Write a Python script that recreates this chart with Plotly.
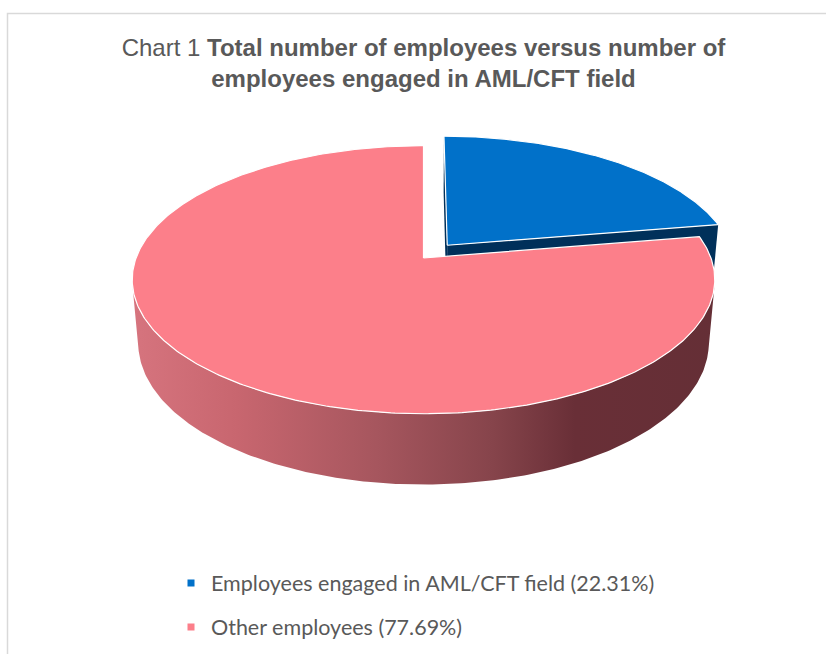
import numpy as np
import plotly.graph_objects as go

# ---- data -------------------------------------------------------------
labels = ["Employees engaged in AML/CFT field", "Other employees"]
shares = [22.31, 77.69]          # percent of all employees
pull = [0.13, 0.0]               # exploded distance (in pie radii)

top_colors = ["#0171C9", "#FC7F8A"]
side_colors = ["#00305A", "#8A4048"]
side_scales = [
    None,
    [[0.0, "#D6747E"], [0.18, "#C8666F"], [0.42, "#A6565E"],
     [0.62, "#86444B"], [0.76, "#692F37"], [1.0, "#652F36"]],
]

title_text = ("Chart 1 <b>Total number of employees versus number of</b><br>"
              "<b>employees engaged in AML/CFT field</b>")

# ---- canvas / projection setup ---------------------------------------
W, H = 826, 654
CX, CY = 423.5, 258.0            # screen position of the pie centre
ELEV = np.radians(27.0)          # camera elevation
DIST = 5.5                       # camera distance (pie radii)
FOCAL = 1581.0
THICK = 0.25                     # pie thickness (pie radii)
START = 90.0                     # first slice starts at 12 o'clock, clockwise

cosE, sinE = np.cos(ELEV), np.sin(ELEV)
CAM = np.array([0.0, -DIST * cosE, DIST * sinE])


def project(X, Y, Z):
    X, Y, Z = np.asarray(X, float), np.asarray(Y, float), np.asarray(Z, float)
    depth = DIST + Y * cosE - Z * sinE
    return CX + FOCAL * X / depth, CY - FOCAL * (Y * sinE + Z * cosE) / depth


def poly(xs, ys, fill, line_color=None, line_width=0.0, gradient=None):
    xs = list(xs) + [xs[0]]
    ys = list(ys) + [ys[0]]
    kw = dict(x=xs, y=ys, mode="lines", fill="toself", showlegend=False,
              hoverinfo="skip",
              line=dict(color=line_color or fill, width=line_width))
    if gradient is not None:
        kw["fillgradient"] = dict(type="horizontal", colorscale=gradient)
    else:
        kw["fillcolor"] = fill
    return go.Scatter(**kw)


# slice angles (degrees, counter-clockwise positive)
fr = np.array(shares) / np.sum(shares)
cum = np.concatenate([[0.0], np.cumsum(fr)])
slices = []
for i in range(len(shares)):
    a0 = START - 360.0 * cum[i]
    a1 = START - 360.0 * cum[i + 1]
    mid = np.radians((a0 + a1) / 2)
    off = pull[i] * np.array([np.cos(mid), np.sin(mid)])
    slices.append(dict(i=i, a0=a0, a1=a1, off=off, depth=np.sin(mid)))

# farthest slices first
slices.sort(key=lambda s: -s["depth"])

traces = []
for s in slices:
    i, a0, a1, (ox, oy) = s["i"], s["a0"], s["a1"], s["off"]
    th = np.radians(np.linspace(a0, a1, 400))

    # radial cut faces
    for ang, sign in ((a0, +1), (a1, -1)):
        r = np.radians(ang)
        u = np.array([np.cos(r), np.sin(r)])
        n = np.array([np.cos(r + sign * np.pi / 2), np.sin(r + sign * np.pi / 2)])
        p = np.array([ox, oy]) + 0.5 * u
        if np.dot(CAM[:2] - p, n) > 1e-6:
            X = [ox, ox + u[0], ox + u[0], ox]
            Y = [oy, oy + u[1], oy + u[1], oy]
            Z = [0, 0, -THICK, -THICK]
            sx, sy = project(X, Y, Z)
            traces.append(poly(sx, sy, side_colors[i]))

    # outer wall, only where it faces the camera
    vis = (CAM[0] - ox - np.cos(th)) * np.cos(th) + \
          (CAM[1] - oy - np.sin(th)) * np.sin(th) > 0
    idx = np.where(vis)[0]
    if idx.size:
        runs = np.split(idx, np.where(np.diff(idx) != 1)[0] + 1)
        for run in runs:
            t = th[run]
            X = np.concatenate([ox + np.cos(t), (ox + np.cos(t))[::-1]])
            Y = np.concatenate([oy + np.sin(t), (oy + np.sin(t))[::-1]])
            Z = np.concatenate([np.zeros_like(t), np.full_like(t, -THICK)])
            sx, sy = project(X, Y, Z)
            traces.append(poly(sx, sy, side_colors[i], gradient=side_scales[i]))

    # top face
    X = np.concatenate([[ox], ox + np.cos(th)])
    Y = np.concatenate([[oy], oy + np.sin(th)])
    sx, sy = project(X, Y, np.zeros_like(X))
    traces.append(poly(sx, sy, top_colors[i], line_color="#FFFFFF", line_width=1.2))

fig = go.Figure(traces)

# legend entries
for i, (lab, val) in enumerate(zip(labels, shares)):
    fig.add_trace(go.Scatter(
        x=[None], y=[None], mode="markers", name=f"{lab} ({val:.2f}%)",
        marker=dict(symbol="square", size=7, color=top_colors[i]),
        legend="legend" if i == 0 else "legend2", showlegend=True))

legend_style = dict(font=dict(family="Lato", size=21.5, color="#595959"),
                    bgcolor="rgba(0,0,0,0)", xanchor="left", yanchor="middle",
                    itemclick=False, itemdoubleclick=False)

fig.update_layout(
    width=W, height=H,
    margin=dict(l=0, r=0, t=0, b=0),
    paper_bgcolor="white", plot_bgcolor="white",
    xaxis=dict(range=[0, W], visible=False, fixedrange=True),
    yaxis=dict(range=[H, 0], visible=False, fixedrange=True),
    title=dict(text=title_text, x=423.5 / W, xanchor="center",
               y=1 - 56 / H, yanchor="top",
               font=dict(family="Liberation Sans", size=24, color="#595959")),
    legend=dict(x=171 / W, y=1 - 583 / H, **legend_style),
    legend2=dict(x=171 / W, y=1 - 627 / H, **legend_style),
    shapes=[dict(type="rect", xref="paper", yref="paper",
                 x0=7.5 / W, x1=1.05, y0=1 - 13.5 / H, y1=-0.05,
                 line=dict(color="#D9D9D9", width=1.5), layer="below")],
)

fig.write_html("out.html", config={"displayModeBar": False})
